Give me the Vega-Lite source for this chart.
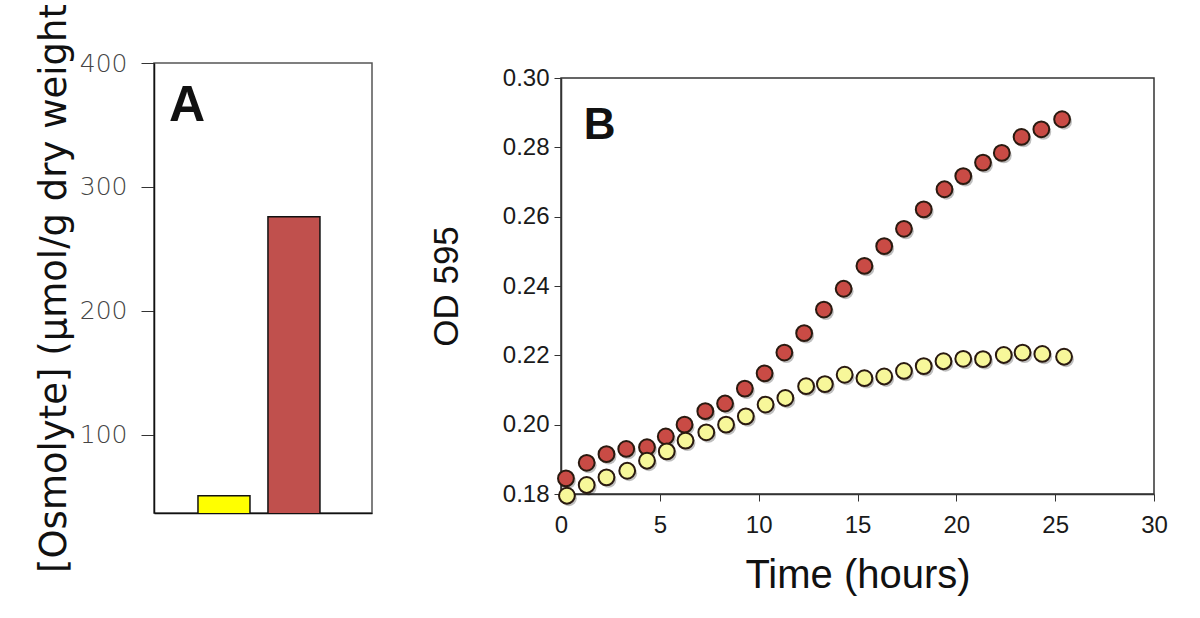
{
  "$schema": "https://vega.github.io/schema/vega-lite/v6.json",
  "background": "white",
  "padding": {"left": 34, "top": 2, "right": 5, "bottom": 5},
  "bounds": "flush",
  "spacing": 189,
  "resolve": {"scale": {"fill": "independent"}},
  "config": {"view": {"stroke": null}, "font": "Liberation Sans"},
  "datasets": {
    "bars": [
      {"sample": "control", "osmolyte": 51},
      {"sample": "stress", "osmolyte": 276}
    ],
    "growth": [
      {"group": "red", "time": 0.25, "od": 0.1845},
      {"group": "red", "time": 1.3, "od": 0.189},
      {"group": "red", "time": 2.3, "od": 0.1915},
      {"group": "red", "time": 3.3, "od": 0.193},
      {"group": "red", "time": 4.35, "od": 0.1935},
      {"group": "red", "time": 5.3, "od": 0.1966},
      {"group": "red", "time": 6.25, "od": 0.2},
      {"group": "red", "time": 7.3, "od": 0.2039},
      {"group": "red", "time": 8.3, "od": 0.2061},
      {"group": "red", "time": 9.3, "od": 0.2104},
      {"group": "red", "time": 10.3, "od": 0.2148},
      {"group": "red", "time": 11.3, "od": 0.2208},
      {"group": "red", "time": 12.3, "od": 0.2264},
      {"group": "red", "time": 13.3, "od": 0.2332},
      {"group": "red", "time": 14.3, "od": 0.2392},
      {"group": "red", "time": 15.35, "od": 0.2458},
      {"group": "red", "time": 16.35, "od": 0.2515},
      {"group": "red", "time": 17.35, "od": 0.2565},
      {"group": "red", "time": 18.35, "od": 0.2621},
      {"group": "red", "time": 19.4, "od": 0.2679},
      {"group": "red", "time": 20.35, "od": 0.2717},
      {"group": "red", "time": 21.35, "od": 0.2756},
      {"group": "red", "time": 22.3, "od": 0.2784},
      {"group": "red", "time": 23.3, "od": 0.283},
      {"group": "red", "time": 24.3, "od": 0.2852},
      {"group": "red", "time": 25.35, "od": 0.2881},
      {"group": "yellow", "time": 0.3, "od": 0.1795},
      {"group": "yellow", "time": 1.3, "od": 0.1826},
      {"group": "yellow", "time": 2.3, "od": 0.1848},
      {"group": "yellow", "time": 3.35, "od": 0.1867},
      {"group": "yellow", "time": 4.35, "od": 0.1896},
      {"group": "yellow", "time": 5.35, "od": 0.1923},
      {"group": "yellow", "time": 6.3, "od": 0.1954},
      {"group": "yellow", "time": 7.35, "od": 0.1978},
      {"group": "yellow", "time": 8.35, "od": 0.2},
      {"group": "yellow", "time": 9.35, "od": 0.2024},
      {"group": "yellow", "time": 10.35, "od": 0.2058},
      {"group": "yellow", "time": 11.35, "od": 0.2077},
      {"group": "yellow", "time": 12.4, "od": 0.2111},
      {"group": "yellow", "time": 13.35, "od": 0.2117},
      {"group": "yellow", "time": 14.35, "od": 0.2144},
      {"group": "yellow", "time": 15.35, "od": 0.2134},
      {"group": "yellow", "time": 16.35, "od": 0.2139},
      {"group": "yellow", "time": 17.35, "od": 0.2155},
      {"group": "yellow", "time": 18.35, "od": 0.2169},
      {"group": "yellow", "time": 19.35, "od": 0.2183},
      {"group": "yellow", "time": 20.35, "od": 0.219},
      {"group": "yellow", "time": 21.35, "od": 0.2189},
      {"group": "yellow", "time": 22.4, "od": 0.2201},
      {"group": "yellow", "time": 23.35, "od": 0.2208},
      {"group": "yellow", "time": 24.35, "od": 0.2204},
      {"group": "yellow", "time": 25.45, "od": 0.2196}
    ]
  },
  "hconcat": [
    {
      "width": 218,
      "height": 450,
      "view": {"stroke": "#555", "strokeWidth": 1.5},
      "layer": [
        {
          "data": {"name": "bars"},
          "mark": {"type": "bar", "clip": true, "stroke": "#111", "strokeWidth": 1.5},
          "encoding": {
            "x": {"field": "sample", "type": "nominal", "sort": null,
                  "scale": {"paddingInner": 0.257, "paddingOuter": 0.686, "align": 0.458},
                  "axis": {"title": null, "labels": false, "ticks": false, "domainColor": "#111", "domainWidth": 1.5}},
            "y": {"field": "osmolyte", "type": "quantitative",
                  "scale": {"domain": [37, 400], "nice": false, "zero": false},
                  "axis": {"values": [100, 200, 300, 400], "grid": false,
                           "title": "[Osmolyte] (μmol/g dry weight",
                           "titleFont": "DejaVu Sans", "titleFontSize": 37, "titleFontWeight": "normal", "titleColor": "#111", "titlePadding": 6,
                           "labelFont": "DejaVu Sans", "labelFontSize": 25, "labelFontWeight": 200, "labelColor": "#444", "labelPadding": 14, "labelFlush": false,
                           "tickSize": 13, "tickColor": "#333", "domainColor": "#111", "domainWidth": 1.5}},
            "fill": {"field": "sample", "type": "nominal", "scale": {"domain": ["control", "stress"], "range": ["#ffff00", "#c0504d"]}, "legend": null}
          }
        },
        {
          "data": {"values": [{"label": "A"}]},
          "mark": {"type": "text", "align": "left", "baseline": "alphabetic", "dx": -55, "fontSize": 50, "fontWeight": "bold", "color": "#111"},
          "encoding": {
            "text": {"field": "label"},
            "x": {"datum": "control"},
            "y": {"datum": 353}
          }
        }
      ]
    },
    {
      "bounds": "flush",
      "spacing": 10,
      "vconcat": [
        {"width": 593, "height": 5, "view": {"stroke": null}, "data": {"values": []}, "mark": "point", "encoding": {}},
        {
          "width": 593,
          "height": 416,
          "view": {"stroke": "#333", "strokeWidth": 1.5},
          "layer": [
            {"data": {"name": "growth"},
             "mark": {"type": "circle", "size": 250, "color": "#000", "opacity": 0.25, "xOffset": 2, "yOffset": 2.5},
             "encoding": {
               "x": {"field": "time", "type": "quantitative",
                     "scale": {"domain": [0, 30], "nice": false},
                     "axis": {"values": [0, 5, 10, 15, 20, 25, 30], "grid": false,
                              "title": "Time (hours)", "titleFontSize": 40, "titleFontWeight": "normal", "titleColor": "#111", "titlePadding": 18,
                              "labelFontSize": 24, "labelColor": "#1a1a1a", "labelPadding": 12, "labelFlush": false,
                              "tickSize": 7, "tickColor": "#333", "domainColor": "#333", "domainWidth": 1.5}},
               "y": {"field": "od", "type": "quantitative",
                     "scale": {"domain": [0.18, 0.3], "nice": false, "zero": false},
                     "axis": {"values": [0.18, 0.2, 0.22, 0.24, 0.26, 0.28, 0.3], "format": ".2f", "grid": false,
                              "title": "OD 595", "titleFontSize": 35, "titleFontWeight": "normal", "titleColor": "#111", "titlePadding": 38,
                              "labelFontSize": 24, "labelColor": "#1a1a1a", "labelPadding": 5, "labelFlush": false,
                              "tickSize": 7, "tickColor": "#333", "domainColor": "#333", "domainWidth": 1.5}}
             }},
            {"data": {"name": "growth"},
             "mark": {"type": "circle", "size": 250, "opacity": 1, "stroke": "#2a1a10", "strokeWidth": 2},
             "encoding": {
               "x": {"field": "time", "type": "quantitative"},
               "y": {"field": "od", "type": "quantitative"},
               "fill": {"field": "group", "type": "nominal", "scale": {"domain": ["red", "yellow"], "range": ["#c94b45", "#f7f79a"]}, "legend": null}
             }},
            {"data": {"values": [{"label": "B"}]},
             "mark": {"type": "text", "align": "left", "baseline": "alphabetic", "fontSize": 44, "fontWeight": "bold", "color": "#111"},
             "encoding": {
               "text": {"field": "label"},
               "x": {"datum": 1.15, "type": "quantitative"},
               "y": {"datum": 0.2824, "type": "quantitative"}
             }}
          ]
        }
      ]
    }
  ]
}
